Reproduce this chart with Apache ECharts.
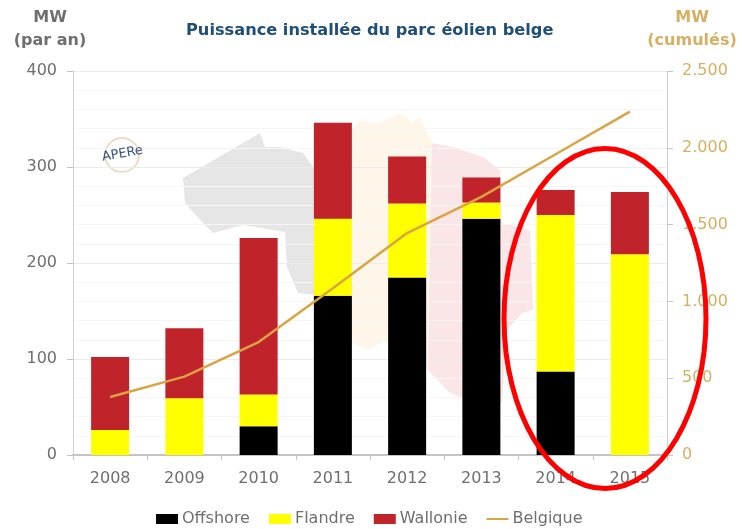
<!DOCTYPE html>
<html>
<head>
<meta charset="utf-8">
<title>Puissance installée du parc éolien belge</title>
<script src="https://cdn.jsdelivr.net/npm/echarts@6/dist/echarts.min.js"></script>
<style>
  html, body { margin: 0; padding: 0; background: #fff; }
  #chart { width: 742px; height: 529px; }
</style>
</head>
<body>
<div id="chart"></div>
<script>
const years = ['2008', '2009', '2010', '2011', '2012', '2013', '2014', '2015']
const offshore = [0, 0, 30, 166, 185, 246, 87, 0]
const flandre = [26, 59, 33, 80, 77, 17, 163, 209]
const wallonie = [76, 73, 163, 100, 49, 26, 26, 65]
const belgique = [378, 510, 735, 1085, 1445, 1680, 1958, 2235]

const textGrey = '#6f6f6f'
const gold = '#d6b062'
const font = 'DejaVu Sans'

// fond: carte de la Belgique + logo + ellipse rouge
const decor = [
  { type: 'polygon', z: -1, silent: true, style: { fill: '#e6e6e6' }, shape: { points: [
    [183, 178], [260, 133], [265, 147], [280, 147], [303, 153], [313, 167], [330, 175],
    [330, 297], [298, 293], [287, 267], [285, 232], [243, 225], [213, 233], [203, 223], [185, 203]
  ] } },
  { type: 'polygon', z: -1, silent: true, style: { fill: '#fdf6e9' }, shape: { points: [
    [330, 130], [352, 130], [360, 120], [378, 124], [400, 113], [412, 122], [420, 117], [432, 143],
    [432, 372], [388, 340], [367, 350], [353, 343], [330, 340]
  ] } },
  { type: 'polygon', z: -1, silent: true, style: { fill: '#fae6e6' }, shape: { points: [
    [432, 143], [453, 147], [483, 157], [500, 170], [502, 223], [530, 230], [533, 310],
    [522, 313], [507, 330], [502, 403], [460, 397], [450, 393], [428, 370]
  ] } },
  { type: 'arc', z: -1, silent: true, shape: { cx: 122, cy: 155, r: 17, startAngle: 0, endAngle: Math.PI * 2 },
    style: { stroke: '#eed3b4', lineWidth: 1.5, fill: null } },
  { type: 'text', z: 1, silent: true, x: 101, y: 151, rotation: 0.17,
    style: { text: 'APERe', fill: '#34557d', font: '13px "' + font + '"' } },
  { type: 'ellipse', z: 100, silent: true, shape: { cx: 605, cy: 318.5, rx: 101, ry: 170 },
    style: { stroke: '#ff0000', lineWidth: 5, fill: null } }
]

const chart = echarts.init(document.getElementById('chart'))
chart.setOption({
  backgroundColor: '#fff',
  animation: false,
  textStyle: { fontFamily: font },
  title: {
    text: 'Puissance installée du parc éolien belge',
    left: 181,
    top: 18,
    textStyle: { color: '#1f4e79', fontSize: 16.2, fontWeight: 'bold', fontFamily: font }
  },
  legend: {
    left: 151,
    top: 506,
    itemWidth: 22,
    itemHeight: 10,
    itemGap: 19,
    textStyle: { color: textGrey, fontSize: 16, padding: [0, 0, 0, -1] },
    data: [
      { name: 'Offshore', icon: 'rect' },
      { name: 'Flandre', icon: 'rect' },
      { name: 'Wallonie', icon: 'rect' },
      { name: 'Belgique', icon: 'path://M0 0h22v2H0z' }
    ]
  },
  grid: { left: 73, right: 75, top: 71, bottom: 74, outerBoundsMode: 'none' },
  xAxis: [
    {
      type: 'category',
      data: years,
      axisLine: { lineStyle: { color: '#c4c4c4' } },
      axisTick: { show: true, alignWithLabel: false, length: 5, lineStyle: { color: '#c4c4c4' } },
      axisLabel: { color: textGrey, fontSize: 16, margin: 16 }
    },
    {
      type: 'category',
      position: 'top',
      data: years,
      axisLine: { lineStyle: { color: '#c4c4c4', width: 2 } },
      axisTick: { show: false },
      axisLabel: { show: false }
    }
  ],
  yAxis: [
    {
      type: 'value',
      min: 0,
      max: 400,
      interval: 100,
      name: 'MW\n(par an)',
      nameGap: 19,
      nameTextStyle: { color: textGrey, fontSize: 16, fontWeight: 'bold', align: 'center', lineHeight: 23, padding: [0, 46, 0, 0] },
      axisLine: { show: true, lineStyle: { color: '#d0d0d0' } },
      axisTick: { show: true, length: 6, lineStyle: { color: '#c4c4c4' } },
      axisLabel: { color: textGrey, fontSize: 16, margin: 16 },
      splitLine: { lineStyle: { color: '#ececec' } },
      minorTick: { show: false, splitNumber: 5 },
      minorSplitLine: { show: true, lineStyle: { color: '#f6f6f6' } }
    },
    {
      type: 'value',
      min: 0,
      max: 2500,
      interval: 500,
      name: 'MW\n(cumulés)',
      nameGap: 19,
      nameTextStyle: { color: gold, fontSize: 16, fontWeight: 'bold', align: 'center', lineHeight: 23, padding: [0, 0, 0, 50] },
      axisLine: { show: true, lineStyle: { color: '#d0d0d0' } },
      axisTick: { show: true, length: 6, lineStyle: { color: '#c4c4c4' } },
      axisLabel: {
        color: gold,
        fontSize: 16,
        margin: 15,
        formatter: v => String(v).replace(/\B(?=(\d{3})+$)/g, '.')
      },
      splitLine: { show: false }
    }
  ],
  graphic: { elements: decor },
  series: [
    { name: 'Offshore', type: 'bar', stack: 'mw', barWidth: 38, itemStyle: { color: '#000000' }, data: offshore },
    { name: 'Flandre', type: 'bar', stack: 'mw', barWidth: 38, itemStyle: { color: '#ffff00' }, data: flandre },
    { name: 'Wallonie', type: 'bar', stack: 'mw', barWidth: 38, itemStyle: { color: '#c1232b' }, data: wallonie },
    {
      name: 'Belgique',
      type: 'line',
      yAxisIndex: 1,
      symbol: 'none',
      z: 5,
      lineStyle: { color: '#d9a441', width: 2.5 },
      itemStyle: { color: '#d9a441' },
      data: belgique
    }
  ]
})
</script>
</body>
</html>
